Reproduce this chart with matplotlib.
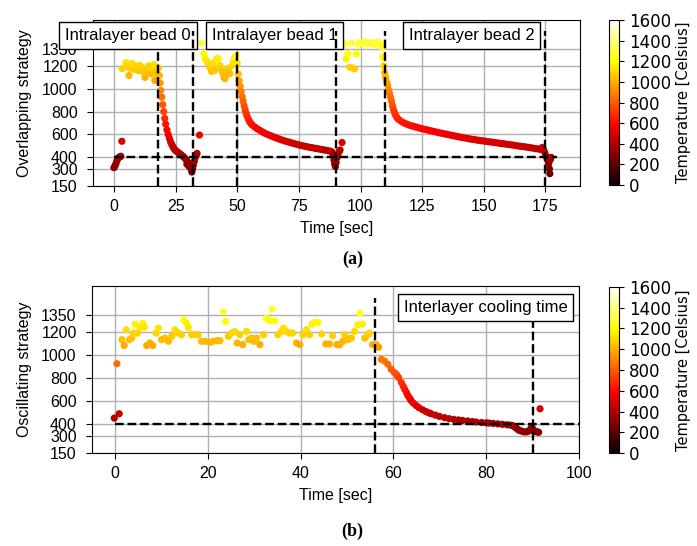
import matplotlib
matplotlib.use("Agg")
import matplotlib.pyplot as plt
from matplotlib.colors import Normalize
from matplotlib.cm import ScalarMappable

plt.rcParams["font.family"] = ["Liberation Sans", "DejaVu Sans"]
plt.rcParams["font.size"] = 11.5

# --- overlapping strategy: three intralayer beads ---
bead0_t = [0, 0.4, 0.8, 1.2, 1.6, 2.0, 2.4, 2.8, 3.2,
           3.3, 4.2, 4.9, 5.5, 6.1, 6.7, 7.2, 7.9, 8.5, 9.2, 9.8, 10.4, 10.9, 11.6,
           12.1, 12.6, 13.3, 14.0, 14.6, 15.2, 15.7, 16.2, 16.6, 17.0, 17.4, 18.0, 18.4,
           18.7, 19.0, 19.4, 19.8, 20.2, 20.6, 21.0, 21.5, 22.0, 22.5, 23.0, 23.5, 24.0,
           24.5, 25.0, 25.6, 26.2, 26.8, 27.4, 28.0, 28.5, 29.0, 29.4, 29.6, 29.8, 30.2,
           30.4, 30.6, 31.0, 31.3, 31.6, 31.9, 32.2, 32.6, 33.0, 33.4, 33.7, 34.7]
bead0_temp = [310, 325, 345, 370, 390, 400, 405, 410, 541,
              1176, 1360, 1228, 1190, 1115, 1180, 1220, 1170, 1200, 1185, 1159, 1205, 1193, 1150,
              1170, 1098, 1141, 1200, 1185, 1130, 1176, 1210, 1072, 1150, 1132, 1180, 1115,
              1050, 985, 925, 860, 800, 740, 690, 640, 600, 565, 535, 510, 490,
              472, 460, 450, 440, 430, 420, 410, 400, 388, 375, 340, 362, 350,
              322, 338, 320, 300, 272, 300, 330, 365, 400, 420, 435, 595]

bead1_t = [35.5, 36.5, 36.9, 37.6, 38.3, 38.9, 39.6, 40.2, 40.9, 41.5, 42.3, 43.0, 43.6,
           44.1, 44.6, 45.0, 45.5, 46.0, 46.5, 47.0, 47.9, 48.5, 49.0, 49.6, 50.0,
           50.4, 50.8, 51.2, 51.6, 52.0, 52.4, 52.8, 53.2, 53.6, 54.0, 54.5, 55.0, 55.5,
           56, 57, 58, 59, 60, 61, 62, 63, 64, 65, 66, 67, 68, 69, 70, 71, 72, 73, 74,
           75, 76, 77, 78, 79, 80, 81, 82, 83, 84, 85, 86, 87, 88,
           88.5, 88.9, 89.2, 89.5, 89.8, 90.1, 90.4, 90.8, 91.3, 91.7, 92.5]
bead1_temp = [1400, 1306, 1260, 1246, 1220, 1185, 1150, 1220, 1159, 1260, 1263, 1202, 1173,
              1141, 1100, 1089, 1115, 1176, 1150, 1132, 1202, 1240, 1272, 1290, 1220,
              1130, 1070, 1020, 975, 930, 890, 850, 815, 785, 760, 735, 712, 697,
              685, 667, 651, 638, 625, 613, 603, 594, 585, 576, 568, 560, 553, 546, 539,
              533, 527, 521, 515, 509, 504, 499, 494, 490, 486, 482, 478, 474, 470, 466,
              462, 458, 453,
              445, 420, 380, 345, 320, 355, 395, 425, 450, 465, 530]

bead2_t = [93.6, 94.2, 94.8, 95.6, 96.3, 97.0, 97.6, 98.3, 99.0, 99.7, 100.3, 101.0, 101.7,
           102.3, 103.0, 103.7, 104.3, 105.0, 105.7, 106.3, 107.0, 107.7, 108.3, 108.8,
           109.1, 109.5, 109.8, 110.2, 110.6, 111.0, 111.4, 111.8, 112.2, 112.6, 113.0,
           113.4, 113.8, 114.2, 114.7, 115.2,
           116, 117, 118, 119, 120, 121, 122, 123, 124, 125, 126, 127, 128, 129, 130,
           131, 132, 133, 134, 135, 136, 137, 138, 139, 140, 141, 142, 143, 144, 145,
           146, 147, 148, 149, 150, 151, 152, 153, 154, 155, 156, 157, 158, 159, 160,
           161, 162, 163, 164, 165, 166, 167, 168, 169, 170, 171, 172, 173,
           173.7, 174.2, 174.7, 175.2, 175.6, 176.0, 176.3, 176.6, 176.8, 177.0, 177.3]
bead2_temp = [1391, 1260, 1306, 1187, 1400, 1180, 1173, 1304, 1390, 1405, 1395, 1400, 1410,
              1395, 1390, 1400, 1405, 1395, 1385, 1400, 1410, 1400, 1385, 1360,
              1274, 1200, 1140, 1100, 1060, 1030, 990, 960, 925, 890, 850,
              815, 790, 770, 750, 735,
              722, 708, 697, 688, 680, 674, 668, 662, 656, 650, 645, 640, 635, 630, 625,
              620, 615, 610, 606, 601, 597, 592, 588, 583, 579, 575, 571, 567, 563, 559,
              556, 552, 549, 546, 543, 540, 537, 534, 531, 528, 525, 522, 519, 516, 513,
              510, 507, 503, 500, 497, 494, 491, 488, 484, 481, 477, 474, 470,
              487, 470, 445, 415, 395, 370, 345, 300, 258, 380, 400]

# bead boundaries (start of deposition, end of bead)
bead_starts = [18, 50, 110]
bead_ends = [32, 90, 175]
bead_labels = ["Intralayer bead 0", "Intralayer bead 1", "Intralayer bead 2"]
bead_label_x = [5.7, 65.2, 145.0]

# --- oscillating strategy: single layer then interlayer cooling ---
osc_t = [-0.2, 0.36, 0.86,
         1.43, 1.94, 2.37, 3.08, 3.58, 3.94, 4.3, 4.8, 5.4, 5.95, 6.3, 6.8, 7.5, 8.1,
         8.8, 9.3, 10.0, 10.75, 11.5, 12.2, 12.9, 13.6, 14.3, 14.8, 15.4, 15.8, 16.5,
         17.2, 17.9, 18.6, 19.4, 20.4, 21.1, 21.9, 22.6, 23.3, 23.8, 24.4, 25.1, 25.8,
         26.3, 26.9, 27.5, 28.3, 28.8, 29.4, 29.9, 30.5, 31.2, 32.0, 32.6, 33.3, 33.8,
         34.4, 35.1, 35.8, 36.3, 36.9, 37.6, 38.3, 39.1, 39.8, 40.5, 41.2, 41.9, 42.4,
         43.0, 43.7, 44.5, 45.4, 46.2, 46.9, 47.8, 48.4, 49.1, 49.5, 50.2, 50.9, 51.6,
         52.3, 52.8, 53.3, 53.8, 54.5, 54.8, 55.5,
         56.3, 56.8, 57.4, 58.1, 58.8, 59.5, 60.2, 60.7, 61.1, 61.7, 62.1, 62.4, 62.8,
         63.1, 63.5, 63.8, 64.3, 64.9, 65.5, 66.3, 67.0, 67.6, 68.1, 69.0, 69.9, 71.0,
         72.0, 73.0, 74.0, 74.9, 76.0, 77.0, 77.8, 79.0, 80.0, 80.6, 81.5, 82.5, 83.5,
         84.5, 85.2, 85.7, 86.1, 86.4, 86.8, 87.1, 87.6, 88.2, 88.7, 89.2, 89.6, 89.8,
         90.1, 90.3, 90.7, 91.0, 91.3, 91.6]
osc_temp = [453, 925, 491,
            1134, 1083, 1220, 1134, 1148, 1191, 1268, 1191, 1240, 1277, 1243, 1083, 1105, 1083,
            1191, 1234, 1134, 1148, 1120, 1163, 1220, 1191, 1177, 1306, 1277, 1240, 1177,
            1177, 1177, 1120, 1120, 1111, 1120, 1126, 1126, 1377, 1292, 1163, 1191, 1205,
            1105, 1177, 1091, 1205, 1134, 1148, 1120, 1148, 1091, 1177, 1320, 1298, 1400,
            1298, 1177, 1205, 1234, 1205, 1191, 1191, 1105, 1091, 1177, 1220, 1177, 1268,
            1283, 1283, 1183, 1097, 1097, 1169, 1091, 1091, 1120, 1177, 1134, 1148, 1205,
            1263, 1363, 1268, 1148, 1177, 1191, 1091,
            1091, 1068, 963, 948, 920, 877, 848, 830, 805, 762, 730, 705, 675,
            648, 625, 605, 583, 562, 543, 525, 510, 499, 491, 479, 468, 457,
            448, 442, 437, 433, 428, 423, 419, 415, 412, 410, 407, 403, 399,
            395, 392, 388, 378, 368, 355, 347, 340, 333, 334, 341, 362, 376,
            355, 341, 336, 333, 330, 534]

cooling_start = 56
cooling_end = 90
threshold = 400

cmap = "hot"
bar_norm = Normalize(vmin=0, vmax=1600)
point_norm = Normalize(vmin=0, vmax=1750)
yticks = [150, 300, 400, 600, 800, 1000, 1200, 1350]

fig = plt.figure(figsize=(6.97, 5.46), dpi=100)
ax1 = fig.add_axes([0.1334, 0.6593, 0.6987, 0.3041])
cax1 = fig.add_axes([0.8737, 0.661, 0.0143, 0.3024])
ax2 = fig.add_axes([0.132, 0.1703, 0.6987, 0.3059])
cax2 = fig.add_axes([0.8737, 0.1703, 0.0143, 0.3041])

dash = dict(color="black", linestyle="--", linewidth=1.7)
box = dict(boxstyle="square,pad=0.35", facecolor="white", edgecolor="black", linewidth=1.0)

# top panel
for t, temp in ((bead0_t, bead0_temp), (bead1_t, bead1_temp), (bead2_t, bead2_temp)):
    ax1.scatter(t, temp, c=temp, cmap=cmap, norm=point_norm, s=27, linewidths=0, zorder=2)
ax1.plot([0, 179.5], [threshold, threshold], zorder=3, **dash)
for x in bead_starts:
    ax1.plot([x, x], [150, 1500], zorder=3, **dash)
for x, label in zip(bead_label_x, bead_labels):
    ax1.text(x, 1463, label, ha="center", va="center", fontsize=12, bbox=box,
             zorder=4, clip_on=False)
for x in bead_ends:
    ax1.plot([x, x], [150, 1500], zorder=5, **dash)

ax1.set_xlim(-8.5, 189)
ax1.set_ylim(150, 1600)
ax1.set_xticks([0, 25, 50, 75, 100, 125, 150, 175])
ax1.set_yticks(yticks)
ax1.set_xlabel("Time [sec]", labelpad=5)
ax1.set_ylabel("Overlapping strategy", labelpad=7)

# bottom panel
ax2.scatter(osc_t, osc_temp, c=osc_temp, cmap=cmap, norm=point_norm, s=27, linewidths=0,
            zorder=2)
ax2.plot([0, 100], [threshold, threshold], zorder=3, **dash)
for x in (cooling_start, cooling_end):
    ax2.plot([x, x], [150, 1500], zorder=3, **dash)
ax2.text(79.9, 1416, "Interlayer cooling time", ha="center", va="center", fontsize=12,
         bbox=box, zorder=4)

ax2.set_xlim(-5, 100)
ax2.set_ylim(150, 1600)
ax2.set_xticks([0, 20, 40, 60, 80, 100])
ax2.set_yticks(yticks)
ax2.set_xlabel("Time [sec]", labelpad=5)
ax2.set_ylabel("Oscillating strategy", labelpad=7)

for ax in (ax1, ax2):
    ax.grid(True, color="#b0b0b0", linewidth=1.0)
    ax.set_axisbelow(True)
    ax.tick_params(axis="y", length=4.5, pad=6.5)
    ax.tick_params(axis="x", length=4.5, pad=5)

for cax in (cax1, cax2):
    cb = fig.colorbar(ScalarMappable(norm=bar_norm, cmap=cmap), cax=cax)
    cb.set_ticks(range(0, 1601, 200))
    cb.ax.tick_params(labelsize=12)
    for lab in cb.ax.get_yticklabels():
        lab.set_family("DejaVu Sans")
    cb.set_label("Temperature [Celsius]", family="DejaVu Sans", fontsize=10.5)

fig.text(0.506, 0.525, "(a)", ha="center", va="center", family="Liberation Serif",
         fontsize=13, fontweight="bold")
fig.text(0.506, 0.027, "(b)", ha="center", va="center", family="Liberation Serif",
         fontsize=13, fontweight="bold")

fig.savefig("out.png", dpi=100)
